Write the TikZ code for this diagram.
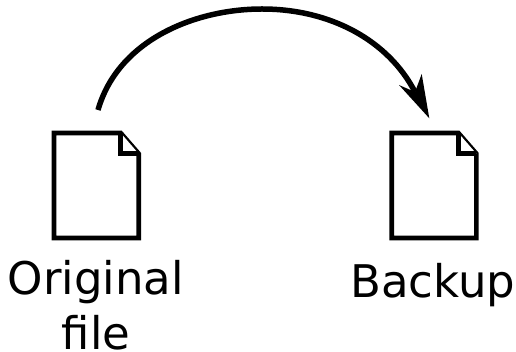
\documentclass[tikz,border=0pt]{standalone}
\usepackage{fontspec}
\setmainfont{DejaVu Sans}
\tikzset{
 pagebody/.style={line width=4.6pt,line join=miter,fill=white},
 lbl/.style={font=\fontsize{45}{55}\selectfont,align=center,inner sep=0pt,text=black},
}
\begin{document}
\begin{tikzpicture}[x=1pt,y=-1pt]
\useasboundingbox (0,0) rectangle (516,352);
\newcommand{\pagedoc}[1]{%
 \begin{scope}[shift={(#1,0)}]
 \draw[pagebody] (54,133) -- (120.7,133) -- (138.7,153.7) -- (138.7,238) -- (54,238) -- cycle;
 \draw[pagebody] (120.7,133) -- (120.7,153.7) -- (138.7,153.7);
 \end{scope}}
\pagedoc{0}
\pagedoc{337.7}
\coordinate (s) at (98,110);
\coordinate (e) at (415,92);
\draw[line width=5.5pt] (s) .. controls (118,40) and (195,9) .. (262,9) .. controls (330,9) and (388,40) .. (e);
\fill (429.3,118.3) -- (399,85) -- (415,92) -- (421.7,74) -- cycle;
\node[lbl] (orig) at (96,305) {Original\\file};
\node[lbl] (bk) at (433,285) {Backup};
\end{tikzpicture}
\end{document}
